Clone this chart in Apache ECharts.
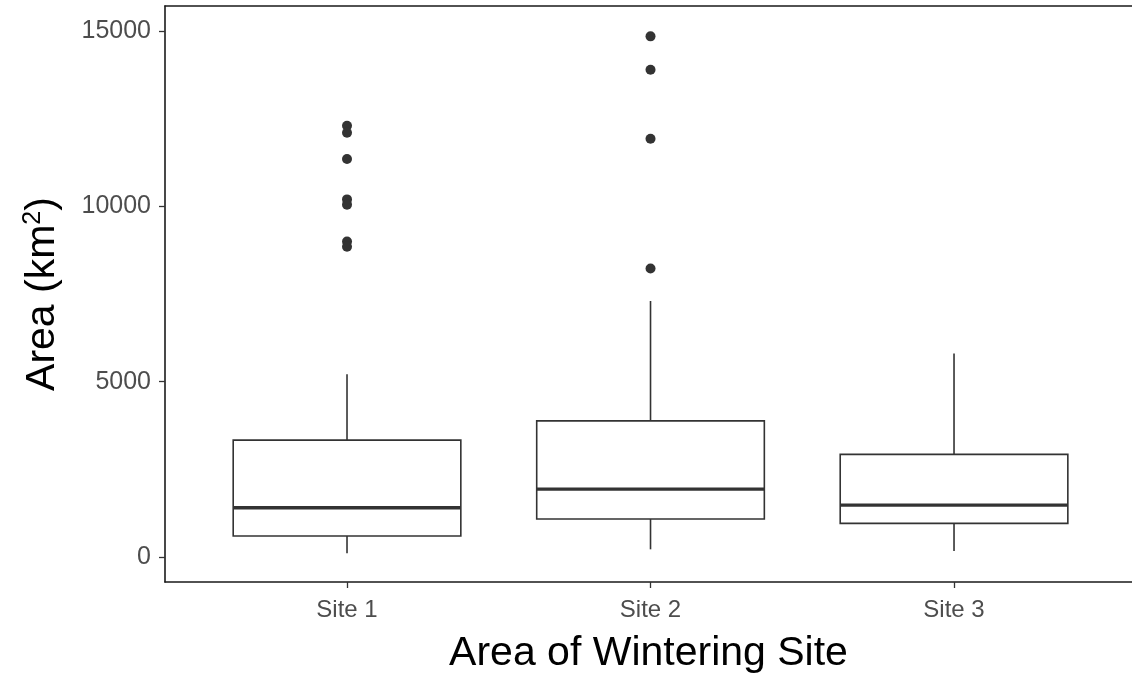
<!DOCTYPE html>
<html>
<head>
<meta charset="utf-8">
<script src="https://cdn.jsdelivr.net/npm/echarts@6/dist/echarts.min.js"></script>
<style>
html,body{margin:0;padding:0;background:#fff;}
#chart{width:1132px;height:680px;}
</style>
</head>
<body>
<div id="chart"></div>
<script>
// ---- data ----
const sites = ['Site 1', 'Site 2', 'Site 3'];
const sitePositions = [1, 2, 3];
const whiskerLow = [105, 219, 171];
const q1 = [598, 1083, 960];
const median = [1405, 1937, 1481];
const q3 = [3333, 3883, 2926];
const whiskerHigh = [5214, 7302, 5803];
const outliersSite1 = [12300, 12100, 11350, 10200, 10050, 9000, 8850];
const outliersSite2 = [14850, 13900, 11930, 8230];
const yTicks = [0, 5000, 10000, 15000];

const FONT = 'Liberation Sans, Arial, sans-serif';
const BOX_W = 0.75;
const STROKE = '#333333';
const FRAME = '#1a1a1a';

const boxData = sitePositions.map((x, i) => [x, whiskerLow[i], q1[i], median[i], q3[i], whiskerHigh[i]]);
const outlierData = []
  .concat(outliersSite1.map(v => [sitePositions[0], v]))
  .concat(outliersSite2.map(v => [sitePositions[1], v]));

const chart = echarts.init(document.getElementById('chart'), null, {renderer: 'canvas'});
chart.setOption({
  animation: false,
  backgroundColor: '#ffffff',
  grid: {left: 165, top: 6, width: 967, height: 576, show: false},
  xAxis: [
    {
      type: 'value',
      min: 0.4003, max: 3.5864,
      splitLine: {show: false},
      axisLine: {show: true, onZero: false, lineStyle: {color: FRAME, width: 1.6}},
      axisTick: {show: true, length: 6, customValues: sitePositions, lineStyle: {color: STROKE, width: 1.3}},
      axisLabel: {
        customValues: sitePositions,
        formatter: v => sites[Math.round(v) - 1] || '',
        color: '#4d4d4d', fontSize: 24, fontFamily: FONT, margin: 16
      },
      name: 'Area of Wintering Site',
      nameLocation: 'middle',
      nameGap: 51,
      nameTextStyle: {color: '#000', fontSize: 41, fontFamily: FONT}
    },
    {
      type: 'value',
      position: 'top',
      min: 0.4003, max: 3.5864,
      splitLine: {show: false},
      axisLine: {show: true, onZero: false, lineStyle: {color: FRAME, width: 1.6}},
      axisTick: {show: false},
      axisLabel: {show: false}
    }
  ],
  yAxis: {
    type: 'value',
    min: -713, max: 15716,
    splitLine: {show: false},
    axisLine: {show: true, onZero: false, lineStyle: {color: FRAME, width: 1.6}},
    axisTick: {show: true, length: 6, customValues: yTicks, lineStyle: {color: STROKE, width: 1.3}},
    axisLabel: {
      customValues: yTicks,
      formatter: v => String(v),
      color: '#4d4d4d', fontSize: 25, fontFamily: FONT, margin: 14
    },
    name: '{a|Area (km}{s|2}{a|)}',
    nameLocation: 'middle',
    nameRotate: 90,
    nameGap: 100,
    nameTextStyle: {
      rich: {
        a: {color: '#000', fontSize: 41, fontFamily: FONT, lineHeight: 44},
        s: {color: '#000', fontSize: 25, fontFamily: FONT, verticalAlign: 'top', lineHeight: 44}
      }
    }
  },
  series: [
    {
      type: 'custom',
      data: boxData,
      encode: {x: 0, y: [1, 2, 3, 4, 5]},
      renderItem: function (params, api) {
        const x = api.value(0);
        const lo = api.coord([x, api.value(1)]);
        const b1 = api.coord([x - BOX_W / 2, api.value(2)]);
        const b3 = api.coord([x + BOX_W / 2, api.value(4)]);
        const m1 = api.coord([x - BOX_W / 2, api.value(3)]);
        const m2 = api.coord([x + BOX_W / 2, api.value(3)]);
        const c1 = api.coord([x, api.value(2)]);
        const c3 = api.coord([x, api.value(4)]);
        const hi = api.coord([x, api.value(5)]);
        const thin = {stroke: STROKE, lineWidth: 1.6, fill: null};
        return {
          type: 'group',
          children: [
            {type: 'line', shape: {x1: c3[0], y1: c3[1], x2: hi[0], y2: hi[1]}, style: thin},
            {type: 'line', shape: {x1: c1[0], y1: c1[1], x2: lo[0], y2: lo[1]}, style: thin},
            {type: 'rect', shape: {x: b1[0], y: b3[1], width: b3[0] - b1[0], height: b1[1] - b3[1]},
              style: {fill: '#ffffff', stroke: STROKE, lineWidth: 1.6}},
            {type: 'line', shape: {x1: m1[0], y1: m1[1], x2: m2[0], y2: m2[1]},
              style: {stroke: STROKE, lineWidth: 3.4}}
          ]
        };
      },
      z: 2
    },
    {
      type: 'scatter',
      data: outlierData,
      symbol: 'circle',
      symbolSize: 10,
      itemStyle: {color: STROKE, opacity: 1},
      z: 3
    }
  ]
});
</script>
</body>
</html>
